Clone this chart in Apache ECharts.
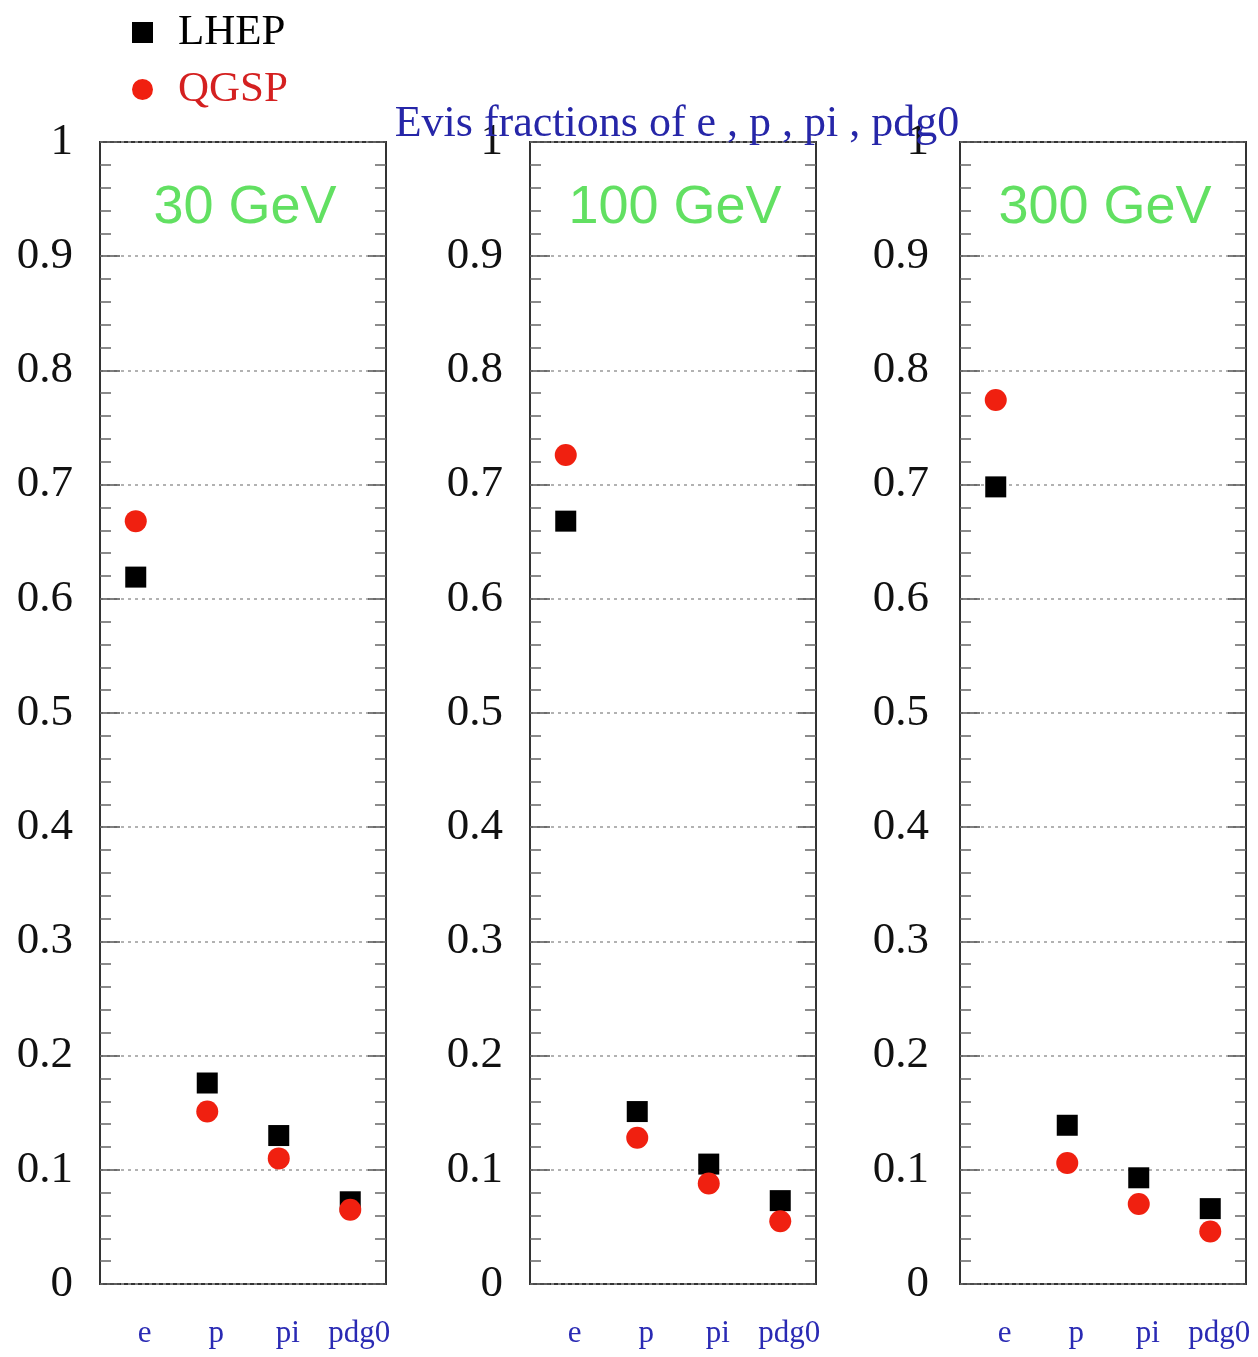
<!DOCTYPE html>
<html>
<head>
<meta charset="utf-8">
<script src="https://cdn.jsdelivr.net/npm/echarts@6/dist/echarts.min.js"></script>
<style>
  html, body { margin: 0; padding: 0; background: #fff; }
  #chart { width: 1258px; height: 1357px; }
</style>
</head>
<body>
<div id="chart"></div>
<script>
const categories = ['e', 'p', 'pi', 'pdg0'];
const energies = ['30 GeV', '100 GeV', '300 GeV'];
const lhep30 = [0.619, 0.176, 0.130, 0.072];
const qgsp30 = [0.668, 0.151, 0.110, 0.065];
const lhep100 = [0.668, 0.151, 0.105, 0.073];
const qgsp100 = [0.726, 0.128, 0.088, 0.055];
const lhep300 = [0.698, 0.139, 0.093, 0.066];
const qgsp300 = [0.774, 0.106, 0.070, 0.046];

const lhepData = [lhep30, lhep100, lhep300];
const qgspData = [qgsp30, qgsp100, qgsp300];

const serif = 'Liberation Serif';
const panelLeft = [100, 530, 960];
const panelWidth = 286;
const gridTop = 142;
const gridHeight = 1142;

const chart = echarts.init(document.getElementById('chart'));

const grids = [], xAxes = [], yAxes = [], series = [], titles = [];

titles.push({
  text: 'Evis fractions of e , p , pi , pdg0',
  left: 672, top: 97, textAlign: 'center',
  textStyle: { fontFamily: serif, fontSize: 44, fontWeight: 'normal', color: '#2626a8' }
});

panelLeft.forEach((left, i) => {
  grids.push({
    left: left, top: gridTop, width: panelWidth, height: gridHeight,
    show: true, borderColor: '#333', borderWidth: 2, backgroundColor: '#fff'
  });
  titles.push({
    text: energies[i],
    left: left + panelWidth / 2 - 3, top: 176, textAlign: 'center',
    textStyle: { fontFamily: 'Liberation Sans', fontSize: 54, fontWeight: 'normal', color: '#62e062' }
  });
  xAxes.push({
    type: 'category', gridIndex: i, data: categories,
    axisLine: { show: false }, axisTick: { show: false },
    axisLabel: {
      interval: 0, fontFamily: serif, fontSize: 31, color: '#2a2ab4', margin: 34,
      padding: [0, 0, 0, 18]
    }
  });
  // left axis with labels
  yAxes.push({
    type: 'value', gridIndex: i, min: 0, max: 1, interval: 0.1, position: 'left',
    axisLine: { show: false },
    axisTick: { show: true, inside: true, length: 20, lineStyle: { color: '#555', width: 1.5 } },
    minorTick: { show: true, splitNumber: 5, length: 11, lineStyle: { color: '#666', width: 1.5 } },
    splitLine: { show: true, lineStyle: { color: '#999', type: [3, 4], width: 1.5 } },
    axisLabel: {
      fontFamily: serif, fontSize: 45, color: '#111', margin: i === 2 ? 31 : 27,
      formatter: v => String(Math.round(v * 10) / 10)
    }
  });
  // right axis, ticks only
  yAxes.push({
    type: 'value', gridIndex: i, min: 0, max: 1, interval: 0.1, position: 'right',
    axisLine: { show: false },
    axisTick: { show: true, inside: true, length: 18, lineStyle: { color: '#555', width: 1.5 } },
    minorTick: { show: true, splitNumber: 5, length: 11, lineStyle: { color: '#666', width: 1.5 } },
    splitLine: { show: false },
    axisLabel: { show: false }
  });
  series.push({
    name: 'LHEP', type: 'scatter', xAxisIndex: i, yAxisIndex: i * 2,
    symbol: 'rect', symbolSize: 21, itemStyle: { color: '#000', opacity: 1 },
    data: lhepData[i]
  });
  series.push({
    name: 'QGSP', type: 'scatter', xAxisIndex: i, yAxisIndex: i * 2,
    symbol: 'circle', symbolSize: 22, itemStyle: { color: '#f02010', opacity: 1 },
    data: qgspData[i]
  });
});

chart.setOption({
  animation: false,
  backgroundColor: '#fff',
  title: titles,
  legend: {
    orient: 'vertical', left: 127, top: 6, itemWidth: 21, itemHeight: 21, itemGap: 14,
    data: [
      { name: 'LHEP', icon: 'rect', textStyle: { color: '#000' } },
      { name: 'QGSP', icon: 'circle', textStyle: { color: '#d42020' } }
    ],
    textStyle: { fontFamily: serif, fontSize: 43, lineHeight: 43, padding: [0, 0, 0, 20] }
  },
  grid: grids,
  xAxis: xAxes,
  yAxis: yAxes,
  series: series
});
</script>
</body>
</html>
